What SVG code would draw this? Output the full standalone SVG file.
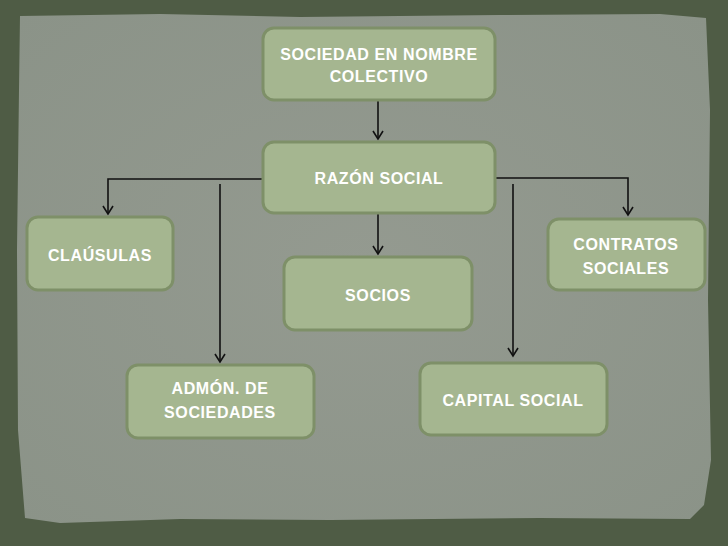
<svg xmlns="http://www.w3.org/2000/svg" width="728" height="546" viewBox="0 0 728 546">
<defs>
<style>
.box{fill:#a5b690;stroke:#7e9068;stroke-width:3}
.t{font-family:"Liberation Sans",Arial,sans-serif;font-weight:bold;font-size:16px;fill:#ffffff;text-anchor:middle;letter-spacing:0.6px}
.c{fill:none;stroke:#111111;stroke-width:1.6}
</style>
<marker id="ah" markerWidth="12" markerHeight="12" refX="10" refY="6" orient="auto" markerUnits="userSpaceOnUse" viewBox="0 0 12 12">
<path d="M2,1 L10,6 L2,11" fill="none" stroke="#111" stroke-width="1.6"/>
</marker>
<radialGradient id="pg" cx="0.5" cy="0.5" r="0.7">
<stop offset="0" stop-color="#949a90"/>
<stop offset="1" stop-color="#8b9388"/>
</radialGradient>
</defs>
<rect x="0" y="0" width="728" height="546" fill="#4f5c45"/>
<path d="M20,16 L160,14 L300,17 L500,15 L660,14 L706,18 L710,110 L708,300 L711,460 L704,505 L690,519 L540,518 L330,520 L180,519 L60,523 L25,518 L18,430 L17,250 L19,90 Z" fill="url(#pg)"/>
<g id="connectors">
<line class="c" x1="378" y1="101" x2="378" y2="139" marker-end="url(#ah)"/>
<line class="c" x1="378" y1="214" x2="378" y2="254" marker-end="url(#ah)"/>
<polyline class="c" points="262,179 108,179 108,214" marker-end="url(#ah)"/>
<line class="c" x1="220" y1="184" x2="220" y2="362" marker-end="url(#ah)"/>
<polyline class="c" points="495,178 628,178 628,215" marker-end="url(#ah)"/>
<line class="c" x1="513" y1="184" x2="513" y2="356" marker-end="url(#ah)"/>
</g>
<g id="n-sociedad">
<rect class="box" x="263" y="28" width="232" height="72" rx="11"/>
<text class="t" x="379" y="60">SOCIEDAD EN NOMBRE</text>
<text class="t" x="379" y="82">COLECTIVO</text>
</g>
<g id="n-razon">
<rect class="box" x="263" y="142" width="232" height="71" rx="11"/>
<text class="t" x="379" y="184">RAZÓN SOCIAL</text>
</g>
<g id="n-clausulas">
<rect class="box" x="27" y="217" width="146" height="73" rx="11"/>
<text class="t" x="100" y="261">CLAÚSULAS</text>
</g>
<g id="n-contratos">
<rect class="box" x="548" y="219" width="157" height="71" rx="11"/>
<text class="t" x="626" y="250">CONTRATOS</text>
<text class="t" x="626" y="274">SOCIALES</text>
</g>
<g id="n-socios">
<rect class="box" x="284" y="257" width="188" height="73" rx="11"/>
<text class="t" x="378" y="301">SOCIOS</text>
</g>
<g id="n-admon">
<rect class="box" x="127" y="365" width="187" height="73" rx="11"/>
<text class="t" x="220" y="394">ADMÓN. DE</text>
<text class="t" x="220" y="418">SOCIEDADES</text>
</g>
<g id="n-capital">
<rect class="box" x="420" y="363" width="187" height="72" rx="11"/>
<text class="t" x="513" y="406">CAPITAL SOCIAL</text>
</g>
</svg>
